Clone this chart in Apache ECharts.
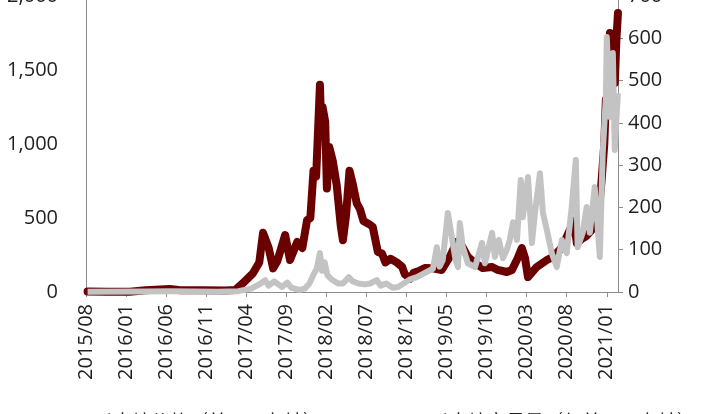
<!DOCTYPE html>
<html>
<head>
<meta charset="utf-8">
<script src="https://cdn.jsdelivr.net/npm/echarts@6/dist/echarts.min.js"></script>
<style>html,body{margin:0;padding:0;background:#fff}#c{width:701px;height:414px}</style>
</head>
<body>
<div id="c"></div>
<script>
// ---- data ----
const seriesNames = ['以太坊价格（美元，左轴）', '以太坊交易量（亿美元，右轴）'];

const priceDates = [
 '2015-08-07','2015-10-20','2016-01-15','2016-03-15','2016-06-15','2016-07-25','2016-10-15','2017-01-10','2017-02-20',
 '2017-03-19','2017-04-27','2017-05-20','2017-06-04','2017-06-25','2017-07-12','2017-07-28','2017-08-27','2017-09-15',
 '2017-10-12','2017-11-01','2017-11-19','2017-12-01','2017-12-13','2017-12-23','2018-01-07','2018-01-12','2018-01-17',
 '2018-01-27','2018-02-03','2018-02-12','2018-02-26','2018-03-10','2018-03-25','2018-04-03','2018-04-15','2018-04-28',
 '2018-05-10','2018-05-25','2018-06-07','2018-06-20','2018-07-10','2018-07-25','2018-08-14','2018-08-30','2018-09-12',
 '2018-10-01','2018-10-25','2018-11-15','2018-11-25','2018-12-15','2018-12-28','2019-01-15','2019-02-10','2019-03-10',
 '2019-04-13','2019-05-13','2019-06-10','2019-06-27','2019-07-21','2019-08-18','2019-09-17','2019-10-22','2019-11-13',
 '2019-12-17','2020-01-06','2020-01-28','2020-02-13','2020-02-25','2020-03-06','2020-04-09','2020-05-17','2020-06-09',
 '2020-07-13','2020-08-28','2020-09-09','2020-09-28','2020-10-16','2020-11-05','2020-11-16','2020-11-24','2020-12-05',
 '2020-12-12','2020-12-22','2020-12-28','2021-01-05','2021-01-13','2021-01-20','2021-02-01','2021-02-07','2021-02-13'
];
const priceValues = [
 3,1,2,12,20,12,12,10,14,
 60,128,200,400,300,160,210,385,216,
 338,297,486,500,820,780,1400,1100,1250,
 1150,700,980,880,720,450,350,520,820,
 730,600,560,480,460,440,270,260,200,
 225,200,170,120,90,130,140,162,160,
 149,237,338,318,237,196,162,169,149,
 135,149,230,297,230,101,169,216,237,
 300,480,330,360,380,420,470,600,620,
 760,1000,1300,1250,1750,1550,1412,1700,1885
];

const volumeDates = [
 '2015-08-07','2016-03-15','2016-06-15','2016-12-15','2017-03-01','2017-04-20','2017-05-25','2017-06-12','2017-06-25',
 '2017-07-16','2017-08-15','2017-09-05','2017-09-20','2017-10-20','2017-11-10','2017-11-28','2017-12-12','2017-12-25',
 '2018-01-07','2018-01-15','2018-01-25','2018-02-05','2018-02-20','2018-03-15','2018-04-03','2018-04-25','2018-05-10',
 '2018-06-01','2018-06-25','2018-07-15','2018-08-10','2018-08-25','2018-09-15','2018-10-10','2018-10-30','2018-11-20',
 '2018-12-15','2019-01-10','2019-02-10','2019-03-10','2019-03-25','2019-04-05','2019-04-17','2019-05-06','2019-05-21',
 '2019-06-05','2019-06-14','2019-06-21','2019-07-02','2019-07-21','2019-08-18','2019-09-14','2019-09-25','2019-10-22',
 '2019-11-02','2019-11-17','2019-12-02','2019-12-17','2019-12-28','2020-01-10','2020-01-25','2020-02-09','2020-02-17',
 '2020-03-06','2020-03-21','2020-04-02','2020-04-21','2020-05-02','2020-05-17','2020-06-05','2020-06-24','2020-07-13',
 '2020-08-01','2020-08-20','2020-09-05','2020-09-12','2020-10-01','2020-10-16','2020-10-28','2020-11-16','2020-12-05',
 '2020-12-16','2020-12-28','2021-01-01','2021-01-13','2021-01-24','2021-02-01','2021-02-09','2021-02-13'
];
const volumeValues = [
 0.5,1,1.5,0.5,2,8,20,28,15,
 25,12,22,10,5,8,20,40,55,
 92,50,70,40,30,20,20,35,25,
 20,18,20,28,15,20,10,12,20,
 30,35,45,55,106,60,75,187,130,
 75,59,163,106,68,59,116,68,140,
 83,123,80,100,123,165,123,265,177,
 272,116,187,281,187,146,92,59,123,
 92,201,312,106,140,201,140,248,83,
 329,461,603,414,565,336,430,470
];

const leftTicks = [0, 500, 1000, 1500, 2000];
const rightTicks = [0, 100, 200, 300, 400, 500, 600, 700];

// month index since 2015/08
function toIdx(s) {
  const p = s.split('-').map(Number);
  return (p[0] - 2015) * 12 + (p[1] - 8) + (p[2] - 1) / 30.4;
}
function idxLabel(v) {
  if (Math.abs(v - Math.round(v)) > 1e-6 || Math.round(v) % 5 !== 0 || v > 65) return '';
  const k = Math.round(v) + 7;
  const y = 2015 + Math.floor(k / 12);
  const m = (k % 12) + 1;
  return y + '/' + (m < 10 ? '0' + m : m);
}

const priceData = priceDates.map((d, i) => [toIdx(d), priceValues[i]]);
const volumeData = volumeDates.map((d, i) => [toIdx(d), volumeValues[i]]);

const FONT = 'Open Sans';
const labelStyle = { color: '#1f1f1f', fontSize: 20, fontFamily: FONT };
const axisColor = '#8c8c8c';

const chart = echarts.init(document.getElementById('c'), null, { renderer: 'canvas' });
chart.setOption({
  animation: false,
  backgroundColor: '#fff',
  grid: { left: 86, right: 83, top: -4, bottom: 122, outerBoundsMode: 'none', containLabel: false },
  legend: [
    { data: [seriesNames[0]], left: 49, top: 407, itemWidth: 34, itemHeight: 6, itemGap: 10,
      textStyle: { fontSize: 19, fontFamily: 'Noto Sans CJK SC', color: '#1f1f1f' } },
    { data: [seriesNames[1]], left: 385, top: 407, itemWidth: 34, itemHeight: 6, itemGap: 10,
      textStyle: { fontSize: 19, fontFamily: 'Noto Sans CJK SC', color: '#1f1f1f' } }
  ],
  xAxis: {
    type: 'value', min: 0, max: 66.4, interval: 5,
    splitLine: { show: false },
    axisLine: { show: true, onZero: false, lineStyle: { color: axisColor, width: 1 } },
    axisTick: { show: true, inside: false, length: 5, lineStyle: { color: axisColor } },
    axisLabel: Object.assign({ rotate: 90, margin: 12, showMaxLabel: false, formatter: idxLabel }, labelStyle)
  },
  yAxis: [
    {
      type: 'value', min: leftTicks[0], max: leftTicks[leftTicks.length - 1], interval: 500,
      splitLine: { show: false },
      axisLine: { show: true, lineStyle: { color: axisColor, width: 1 } },
      axisTick: { show: false },
      axisLabel: Object.assign({ margin: 28, formatter: v => v.toLocaleString('en-US') }, labelStyle)
    },
    {
      type: 'value', min: rightTicks[0], max: rightTicks[rightTicks.length - 1], interval: 100, position: 'right',
      splitLine: { show: false },
      axisLine: { show: true, lineStyle: { color: axisColor, width: 1 } },
      axisTick: { show: true, inside: false, length: 5, lineStyle: { color: axisColor } },
      axisLabel: Object.assign({ margin: 10 }, labelStyle)
    }
  ],
  series: [
    { name: seriesNames[0], type: 'line', yAxisIndex: 0, data: priceData, showSymbol: false, symbol: 'none',
      lineStyle: { color: '#6b0000', width: 8, join: 'round', cap: 'round' }, itemStyle: { color: '#6b0000' }, z: 2 },
    { name: seriesNames[1], type: 'line', yAxisIndex: 1, data: volumeData, showSymbol: false, symbol: 'none',
      lineStyle: { color: '#c3c3c3', width: 6, join: 'round' }, itemStyle: { color: '#c3c3c3' }, z: 3 }
  ]
});
</script>
</body>
</html>
